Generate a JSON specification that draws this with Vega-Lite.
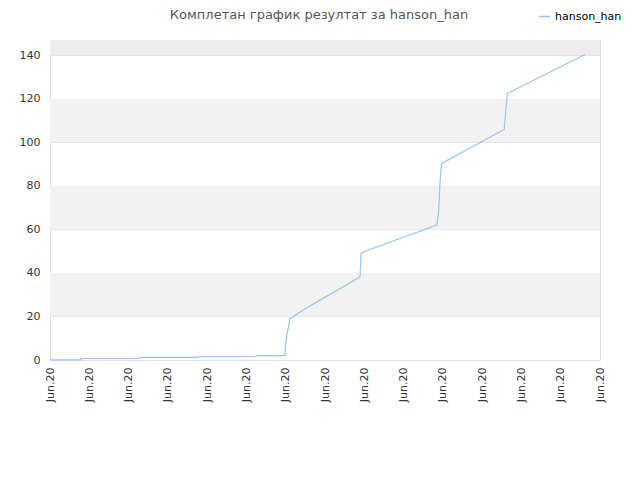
{
  "$schema": "https://vega.github.io/schema/vega-lite/v6.json",
  "width": 550,
  "height": 320,
  "autosize": "none",
  "padding": {"left": 50, "top": 40, "right": 40, "bottom": 120},
  "background": "#ffffff",
  "title": {
    "text": "Комплетан график резултат за hanson_han",
    "font": "DejaVu Sans",
    "fontSize": 13,
    "fontWeight": "normal",
    "color": "#555555",
    "anchor": "middle",
    "baseline": "bottom",
    "dx": -6,
    "dy": 25,
    "offset": 0
  },
  "config": {
    "view": {"stroke": "#dddddd"},
    "axis": {
      "labelFont": "DejaVu Sans",
      "labelFontSize": 11,
      "labelColor": "#333333",
      "domain": false,
      "ticks": false,
      "title": null
    }
  },
  "datasets": {
    "bands": [
      {"lo": 20, "hi": 40, "shade": "a"},
      {"lo": 60, "hi": 80, "shade": "a"},
      {"lo": 100, "hi": 120, "shade": "a"},
      {"lo": 140, "hi": 147, "shade": "b"}
    ],
    "scores": [
      {"t": 0, "v": 0.1},
      {"t": 0.79, "v": 0.1},
      {"t": 0.8, "v": 0.7},
      {"t": 2.27, "v": 0.7},
      {"t": 2.28, "v": 1.2},
      {"t": 3.77, "v": 1.2},
      {"t": 3.78, "v": 1.6},
      {"t": 5.24, "v": 1.6},
      {"t": 5.25, "v": 2},
      {"t": 5.98, "v": 2},
      {"t": 5.99, "v": 6},
      {"t": 6.03, "v": 11.5},
      {"t": 6.11, "v": 19},
      {"t": 6.5, "v": 23.5},
      {"t": 6.87, "v": 27.5},
      {"t": 7.4, "v": 33},
      {"t": 7.89, "v": 38.2},
      {"t": 7.92, "v": 49.2},
      {"t": 8.9, "v": 55.8},
      {"t": 9.85, "v": 62},
      {"t": 9.89, "v": 67.5},
      {"t": 9.93, "v": 82.6},
      {"t": 9.97, "v": 90.3},
      {"t": 11.56, "v": 105.9},
      {"t": 11.58, "v": 110},
      {"t": 11.61, "v": 116},
      {"t": 11.64, "v": 122.4},
      {"t": 13.62, "v": 140.3}
    ]
  },
  "layer": [
    {
      "data": {"name": "bands"},
      "mark": {"type": "rect"},
      "encoding": {
        "y": {"field": "lo", "type": "quantitative", "scale": {"domain": [0, 147], "nice": false}},
        "y2": {"field": "hi"},
        "color": {
          "field": "shade",
          "type": "nominal",
          "scale": {"domain": ["a", "b"], "range": ["#f2f2f2", "#ededed"]},
          "legend": null
        }
      }
    },
    {
      "data": {"name": "scores"},
      "mark": {"type": "line", "strokeWidth": 1.2, "interpolate": "linear"},
      "encoding": {
        "x": {
          "field": "t",
          "type": "quantitative",
          "scale": {"domain": [0, 14], "nice": false},
          "axis": {
            "values": [0, 1, 2, 3, 4, 5, 6, 7, 8, 9, 10, 11, 12, 13, 14],
            "labelExpr": "'Jun.20'",
            "labelAngle": -90,
            "labelAlign": "right",
            "labelBaseline": "middle",
            "labelPadding": 7,
            "grid": false
          }
        },
        "y": {
          "field": "v",
          "type": "quantitative",
          "scale": {"domain": [0, 147], "nice": false},
          "axis": {
            "values": [0, 20, 40, 60, 80, 100, 120, 140],
            "gridColor": "#e2e2e2",
            "labelPadding": 10
          }
        },
        "stroke": {
          "datum": "hanson_han",
          "type": "nominal",
          "scale": {"range": ["#92c5f5"]},
          "legend": {
            "title": null,
            "orient": "none",
            "legendX": 488,
            "legendY": -30,
            "symbolType": "stroke",
            "symbolSize": 120,
            "symbolStrokeWidth": 1.5,
            "labelFont": "DejaVu Sans",
            "labelFontSize": 11,
            "labelColor": "#000000"
          }
        }
      }
    }
  ],
  "resolve": {"scale": {"color": "independent"}}
}
